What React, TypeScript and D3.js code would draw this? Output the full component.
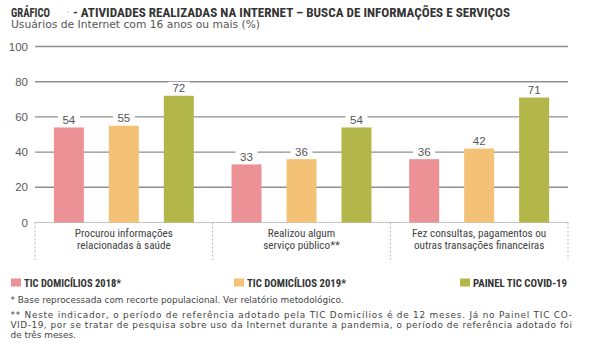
import React from "react";
import * as d3 from "d3";

const categories = [
  ["Procurou informações", "relacionadas à saúde"],
  ["Realizou algum", "serviço público**"],
  ["Fez consultas, pagamentos ou", "outras transações financeiras"],
];
const seriesNames = ["TIC DOMICÍLIOS 2018*", "TIC DOMICÍLIOS 2019*", "PAINEL TIC COVID-19"];
const values2018 = [54, 33, 36];
const values2019 = [55, 36, 42];
const valuesCovid = [72, 54, 71];
const yTicks = [0, 20, 40, 60, 80, 100];
const colors = ["#EC9297", "#F3C276", "#B3B648"];
const footnote1 = "* Base reprocessada com recorte populacional. Ver relatório metodológico.";
const footnote2 = [
  "** Neste indicador, o período de referência adotado pela TIC Domicílios é de 12 meses. Já no Painel TIC CO-",
  "VID-19, por se tratar de pesquisa sobre uso da Internet durante a pandemia, o período de referência adotado foi",
  "de três meses.",
];

const W = 589;
const H = 350;
const left = 35;
const right = 568;
const y0 = 222.5;
const y100 = 46.5;

export default function App() {
  const series = [values2018, values2019, valuesCovid];
  const x = d3.scaleBand<number>().domain(d3.range(categories.length)).range([left, right]).padding(0);
  const inner = d3
    .scaleBand<number>()
    .domain(d3.range(series.length))
    .range([0, x.bandwidth()])
    .paddingInner(0.4545)
    .paddingOuter(0.343);
  const y = d3.scaleLinear().domain([0, 100]).range([y0, y100]);
  const condensed = "'Liberation Sans Narrow', 'Roboto Condensed', Roboto, sans-serif";
  const legendX = [11, 234, 460];
  const legendW = [97, 99, 94];

  return (
    <svg width={W} height={H} style={{ position: "absolute", left: 0, top: 0, background: "#fff" }}>
      <rect width={W} height={H} fill="#fff" />
      {/* Title */}
      <text x={11} y={16.5} fontFamily={condensed} fontWeight="bold" fontSize={13.5} fill="#333" textLength={39} lengthAdjust="spacingAndGlyphs">
        GRÁFICO
      </text>
      <circle cx={68} cy={12} r={0.8} fill="#bbb" />
      <text x={73} y={16.5} fontFamily={condensed} fontWeight="bold" fontSize={13.5} fill="#333" textLength={437} lengthAdjust="spacingAndGlyphs">
        - ATIVIDADES REALIZADAS NA INTERNET – BUSCA DE INFORMAÇÕES E SERVIÇOS
      </text>
      <text x={11} y={27.5} fontFamily="'DejaVu Sans', sans-serif" fontSize={10} fill="#555" textLength={249} lengthAdjust="spacingAndGlyphs">
        Usuários de Internet com 16 anos ou mais (%)
      </text>

      {/* grid */}
      {yTicks.map((t) => (
        <g key={t}>
          {t > 0 && <line x1={left} x2={right} y1={y(t)} y2={y(t)} stroke="#8f8f8f" strokeWidth={1.4} />}
          <text x={28} y={y(t) + 4} textAnchor="end" fontFamily="'Liberation Sans', Arial, sans-serif" fontSize={11.5} fill="#5a5a5a">
            {t}
          </text>
        </g>
      ))}
      <line x1={left} x2={right} y1={y0} y2={y0} stroke="#c4c4c4" strokeWidth={1} />
      {d3.range(categories.length + 1).map((i) => {
        const xx = i < categories.length ? x(i)! : right;
        return <line key={i} x1={xx} x2={xx} y1={y0} y2={260} stroke="#b5b5b5" strokeWidth={1} strokeDasharray="2,2" />;
      })}

      {/* bars */}
      {categories.map((_, ci) =>
        series.map((vals, si) => {
          const bx = x(ci)! + inner(si)!;
          const bw = inner.bandwidth();
          const v = vals[ci];
          const cx = bx + bw / 2;
          return (
            <g key={`${ci}-${si}`}>
              <rect x={bx} y={y(v)} width={bw} height={y0 - y(v)} fill={colors[si]} />
              <rect x={cx - 11} y={y(v) - 14} width={22} height={11} fill="#fff" />
              <text x={cx} y={y(v) - 3.5} textAnchor="middle" fontFamily="'Liberation Sans', Arial, sans-serif" fontSize={11.5} fill="#555">
                {v}
              </text>
            </g>
          );
        })
      )}

      {/* category labels */}
      {categories.map((lines, ci) => {
        const cx = x(ci)! + x.bandwidth() / 2;
        return lines.map((ln, li) => (
          <text key={`${ci}-${li}`} x={cx} y={236.5 + li * 12} textAnchor="middle" fontFamily={condensed} fontSize={11.2} fill="#444">
            {ln}
          </text>
        ));
      })}

      {/* legend */}
      {seriesNames.map((n, i) => (
        <g key={n}>
          <rect x={legendX[i]} y={278.5} width={10} height={8} fill={colors[i]} />
          <text x={legendX[i] + 13} y={286.5} fontFamily={condensed} fontWeight="bold" fontSize={10.5} fill="#333" textLength={legendW[i]} lengthAdjust="spacingAndGlyphs">
            {n}
          </text>
        </g>
      ))}

      {/* footnotes */}
      <text x={10.5} y={302.5} fontFamily="'DejaVu Sans', sans-serif" fontSize={8.9} fill="#444">
        {footnote1}
      </text>
      {footnote2.map((ln, i) => (
        <text
          key={i}
          x={10.5}
          y={317.5 + i * 10.3}
          fontFamily="'DejaVu Sans', sans-serif"
          fontSize={8.9}
          fill="#444"
          {...(i < 2 ? { textLength: 561.5, lengthAdjust: "spacing" } : {})}
        >
          {ln}
        </text>
      ))}
    </svg>
  );
}
